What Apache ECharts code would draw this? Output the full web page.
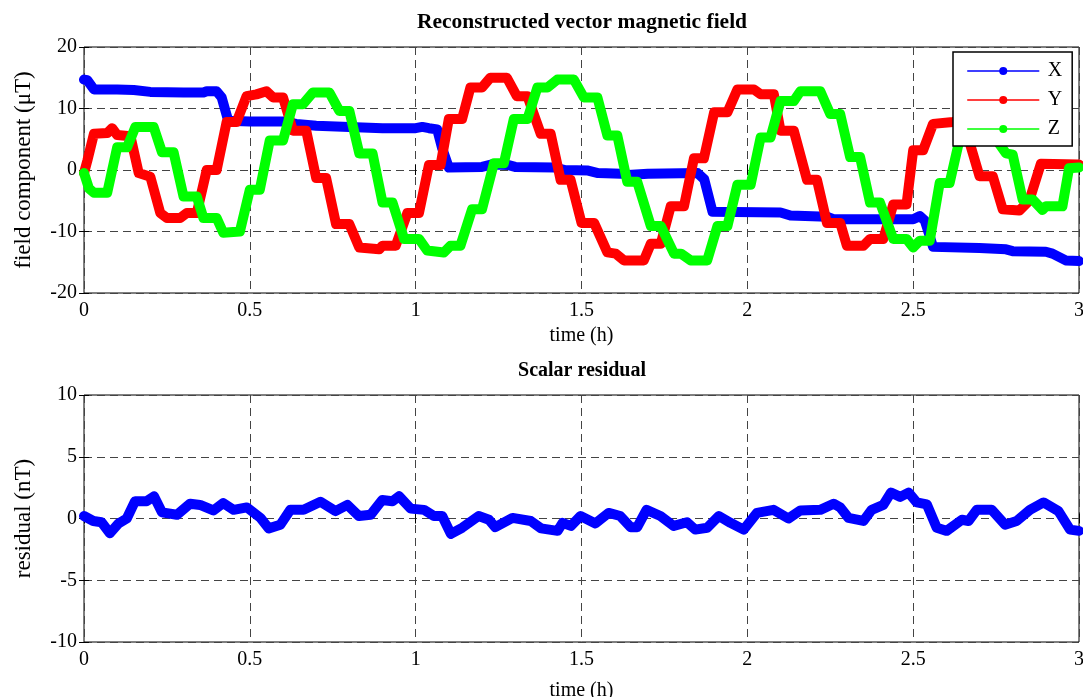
<!DOCTYPE html>
<html>
<head>
<meta charset="utf-8">
<script src="https://cdn.jsdelivr.net/npm/echarts@6/dist/echarts.min.js"></script>
<style>
  html, body { margin: 0; padding: 0; background: #fff; }
  #main { width: 1083px; height: 697px; }
</style>
</head>
<body>
<div id="main"></div>
<script>
var mychart = echarts.init(document.getElementById('main'));

// [time (h), field (uT)]
var fieldX = [
  [0,14.7],[0.01,14.6],[0.03,13.1],[0.1,13.1],[0.15,13.0],[0.2,12.7],[0.3,12.6],[0.36,12.6],
  [0.37,12.8],[0.4,12.8],[0.415,11.8],[0.435,8.0],[0.5,7.9],[0.6,7.9],[0.64,7.5],[0.7,7.2],
  [0.8,7.0],[0.9,6.8],[1.0,6.8],[1.02,7.0],[1.04,6.8],[1.065,6.6],[1.08,3.5],[1.1,0.4],
  [1.2,0.5],[1.23,0.9],[1.28,0.8],[1.3,0.5],[1.42,0.4],[1.45,0],[1.52,-0.1],[1.55,-0.5],
  [1.62,-0.6],[1.64,-0.8],[1.7,-0.6],[1.85,-0.5],[1.87,-1.5],[1.895,-6.8],[2.1,-6.9],
  [2.13,-7.4],[2.24,-7.6],[2.26,-8.0],[2.5,-8.0],[2.52,-7.5],[2.535,-8.2],[2.56,-12.5],
  [2.7,-12.7],[2.78,-12.9],[2.8,-13.2],[2.9,-13.3],[2.92,-13.6],[2.96,-14.7],[3.0,-14.8]
];
var fieldY = [
  [0,-0.5],[0.01,1.5],[0.03,5.9],[0.07,6.0],[0.085,6.8],[0.1,5.7],[0.14,5.5],[0.165,-0.5],
  [0.2,-1.1],[0.23,-7.0],[0.25,-7.8],[0.29,-7.8],[0.31,-7.0],[0.34,-7.0],[0.37,0],[0.4,0],
  [0.43,7.8],[0.46,7.8],[0.49,12.0],[0.52,12.3],[0.55,12.8],[0.57,11.8],[0.6,11.8],[0.63,6.4],
  [0.67,6.4],[0.70,-1.3],[0.73,-1.3],[0.76,-8.8],[0.8,-8.8],[0.83,-12.6],[0.89,-12.9],
  [0.9,-12.3],[0.94,-12.3],[0.975,-7.0],[1.01,-7.0],[1.04,0.8],[1.075,0.8],[1.1,8.3],
  [1.14,8.3],[1.165,13.4],[1.2,13.4],[1.225,15.0],[1.275,15.0],[1.305,12.0],[1.337,12.0],
  [1.377,5.9],[1.407,5.9],[1.437,-1.6],[1.467,-1.6],[1.5,-8.6],[1.538,-8.6],[1.578,-13.4],
  [1.603,-13.6],[1.628,-14.7],[1.688,-14.7],[1.709,-12.0],[1.739,-12.0],[1.769,-5.9],
  [1.809,-5.9],[1.839,1.9],[1.869,1.9],[1.9,9.4],[1.94,9.4],[1.97,13.1],[2.02,13.1],
  [2.04,12.3],[2.08,12.3],[2.1,6.4],[2.14,6.4],[2.18,-1.6],[2.21,-1.6],[2.24,-8.6],
  [2.28,-8.6],[2.3,-12.3],[2.35,-12.3],[2.37,-11.2],[2.41,-11.2],[2.44,-5.6],[2.48,-5.6],
  [2.5,3.2],[2.53,3.2],[2.56,7.5],[2.62,7.8],[2.64,8.0],[2.67,4.5],[2.7,-1.0],[2.74,-1.0],
  [2.77,-6.4],[2.82,-6.6],[2.85,-5.0],[2.885,1.0],[3.0,0.9]
];
var fieldZ = [
  [0,-0.5],[0.015,-3],[0.03,-3.7],[0.07,-3.7],[0.1,3.7],[0.13,3.7],[0.155,7.0],[0.21,7.0],
  [0.235,2.9],[0.27,2.9],[0.3,-4.3],[0.34,-4.3],[0.36,-7.8],[0.4,-7.8],[0.42,-10.2],
  [0.47,-10.0],[0.5,-3.2],[0.53,-3.2],[0.56,4.8],[0.6,4.8],[0.63,10.7],[0.66,10.7],
  [0.69,12.6],[0.74,12.6],[0.77,9.6],[0.8,9.6],[0.83,2.7],[0.87,2.7],[0.9,-5.3],[0.93,-5.3],
  [0.965,-11.2],[1.01,-11.2],[1.035,-13.1],[1.085,-13.4],[1.105,-12.3],[1.135,-12.3],
  [1.17,-6.4],[1.2,-6.4],[1.236,1.1],[1.266,1.1],[1.296,8.3],[1.337,8.3],[1.367,13.4],
  [1.397,13.4],[1.427,14.7],[1.477,14.7],[1.507,11.8],[1.548,11.8],[1.578,5.6],[1.608,5.6],
  [1.638,-1.9],[1.668,-1.9],[1.709,-9.1],[1.739,-9.1],[1.779,-13.6],[1.8,-13.6],
  [1.829,-14.7],[1.879,-14.7],[1.91,-9.1],[1.94,-9.1],[1.97,-2.4],[2.01,-2.4],[2.04,5.3],
  [2.07,5.3],[2.1,11.2],[2.14,11.2],[2.16,12.8],[2.22,12.8],[2.25,9.1],[2.28,9.1],
  [2.31,2.1],[2.34,2.1],[2.37,-5.3],[2.4,-5.3],[2.44,-11.2],[2.48,-11.2],[2.5,-12.6],
  [2.52,-11.5],[2.55,-11.5],[2.58,-2.1],[2.61,-2.1],[2.64,5.0],[2.67,9.5],[2.72,9.5],
  [2.75,5.0],[2.78,2.7],[2.8,2.5],[2.83,-4.8],[2.86,-4.8],[2.89,-6.5],[2.9,-5.9],
  [2.95,-5.9],[2.97,0.3],[3.0,0.4]
];
// [time (h), residual (nT)]
var residual = [
  [0,0.2],[0.028,-0.2],[0.053,-0.3],[0.078,-1.2],[0.104,-0.4],[0.129,0],[0.154,1.4],
  [0.189,1.4],[0.211,1.8],[0.235,0.5],[0.28,0.3],[0.32,1.2],[0.35,1.1],[0.39,0.65],
  [0.42,1.25],[0.451,0.7],[0.491,0.9],[0.532,0.05],[0.557,-0.8],[0.592,-0.5],[0.622,0.7],
  [0.662,0.7],[0.713,1.35],[0.758,0.6],[0.794,1.1],[0.829,0.2],[0.864,0.3],[0.899,1.5],
  [0.93,1.4],[0.95,1.8],[0.985,0.8],[1.025,0.7],[1.055,0.2],[1.08,0.2],[1.106,-1.25],
  [1.14,-0.75],[1.19,0.2],[1.221,-0.1],[1.24,-0.7],[1.292,0.05],[1.347,-0.2],[1.378,-0.8],
  [1.428,-1.0],[1.443,-0.35],[1.468,-0.6],[1.497,0.2],[1.542,-0.4],[1.582,0.45],[1.617,0.2],
  [1.648,-0.7],[1.668,-0.7],[1.696,0.7],[1.738,0.2],[1.778,-0.6],[1.818,-0.3],[1.843,-0.9],
  [1.879,-0.75],[1.914,0.2],[1.949,-0.35],[1.989,-0.9],[2.029,0.45],[2.079,0.7],[2.124,0],
  [2.16,0.65],[2.22,0.7],[2.26,1.2],[2.28,0.9],[2.305,0.05],[2.35,-0.2],[2.375,0.7],
  [2.41,1.1],[2.433,2.1],[2.461,1.75],[2.486,2.1],[2.511,1.3],[2.541,1.15],[2.571,-0.75],
  [2.601,-1.0],[2.647,-0.1],[2.667,-0.2],[2.692,0.7],[2.737,0.7],[2.777,-0.5],[2.812,-0.2],
  [2.852,0.7],[2.893,1.3],[2.938,0.6],[2.973,-0.9],[3.0,-1.0]
];

var font = '"Liberation Serif", "Times New Roman", serif';

function timeAxis(gridIndex, pos, show, nameGap) {
    return {
        type: 'value', gridIndex: gridIndex, position: pos,
        min: 0, max: 3, interval: 0.5,
        name: show ? 'time (h)' : '', nameLocation: 'middle', nameGap: nameGap,
        nameTextStyle: { fontFamily: font, fontSize: 20, color: '#000' },
        axisLine: { show: false },
        axisTick: { show: true, inside: true, length: 5, lineStyle: { color: '#000' } },
        axisLabel: { show: show, margin: 8, fontFamily: font, fontSize: 20, color: '#000' },
        splitLine: { show: show, lineStyle: { color: '#444', type: [8, 5] } }
    };
}
function valAxis(gridIndex, pos, show, min, max, interval, name) {
    return {
        type: 'value', gridIndex: gridIndex, position: pos,
        min: min, max: max, interval: interval,
        name: show ? name : '', nameLocation: 'middle', nameGap: 49,
        nameTextStyle: { fontFamily: font, fontSize: 23, color: '#000' },
        axisLine: { show: false },
        axisTick: { show: true, inside: true, length: 5, lineStyle: { color: '#000' } },
        axisLabel: { show: show, margin: 7, fontFamily: font, fontSize: 20, color: '#000' },
        splitLine: { show: show, lineStyle: { color: '#444', type: [8, 5] } }
    };
}
function lineSeries(name, data, color, xi, yi) {
    return {
        name: name, type: 'line', data: data,
        xAxisIndex: xi, yAxisIndex: yi,
        symbol: 'circle', showSymbol: false, animation: false,
        itemStyle: { color: color },
        lineStyle: { color: color, width: 10, cap: 'round', join: 'round' }
    };
}

option = {
    backgroundColor: '#fff',
    title: [
        {
            text: 'Reconstructed vector magnetic field',
            left: 582, top: 11, textAlign: 'center', padding: 0,
            textStyle: { fontFamily: font, fontSize: 21.5, fontWeight: 'bold', color: '#000' }
        },
        {
            text: 'Scalar residual',
            left: 582, top: 361, textAlign: 'center', padding: 0,
            textStyle: { fontFamily: font, fontSize: 20, fontWeight: 'bold', color: '#000' }
        }
    ],
    grid: [
        { left: 84, right: 4, top: 47, height: 246, outerBoundsMode: 'none',
          show: true, borderColor: '#000', borderWidth: 1 },
        { left: 84, right: 4, top: 395, height: 247, outerBoundsMode: 'none',
          show: true, borderColor: '#000', borderWidth: 1 }
    ],
    legend: {
        orient: 'vertical', left: 953, top: 52,
        data: ['X', 'Y', 'Z'],
        itemWidth: 71, itemHeight: 10, itemGap: 9,
        padding: [9, 10, 7, 14],
        backgroundColor: '#fff', borderColor: '#000', borderWidth: 1.5,
        lineStyle: { width: 1.5 },
        textStyle: { fontFamily: font, fontSize: 20, color: '#000', lineHeight: 20, padding: [0, 0, 0, 4] }
    },
    xAxis: [
        timeAxis(0, 'bottom', true, 33),
        timeAxis(0, 'top', false, 0),
        timeAxis(1, 'bottom', true, 39),
        timeAxis(1, 'top', false, 0)
    ],
    yAxis: [
        valAxis(0, 'left', true, -20, 20, 10, 'field component (\u03bcT)'),
        valAxis(0, 'right', false, -20, 20, 10, ''),
        valAxis(1, 'left', true, -10, 10, 5, 'residual (nT)'),
        valAxis(1, 'right', false, -10, 10, 5, '')
    ],
    series: [
        lineSeries('X', fieldX, '#0000ff', 0, 0),
        lineSeries('Y', fieldY, '#ff0000', 0, 0),
        lineSeries('Z', fieldZ, '#00ff00', 0, 0),
        lineSeries('residual', residual, '#0000ff', 2, 2)
    ]
};
mychart.setOption(option, true);
</script>
</body>
</html>
